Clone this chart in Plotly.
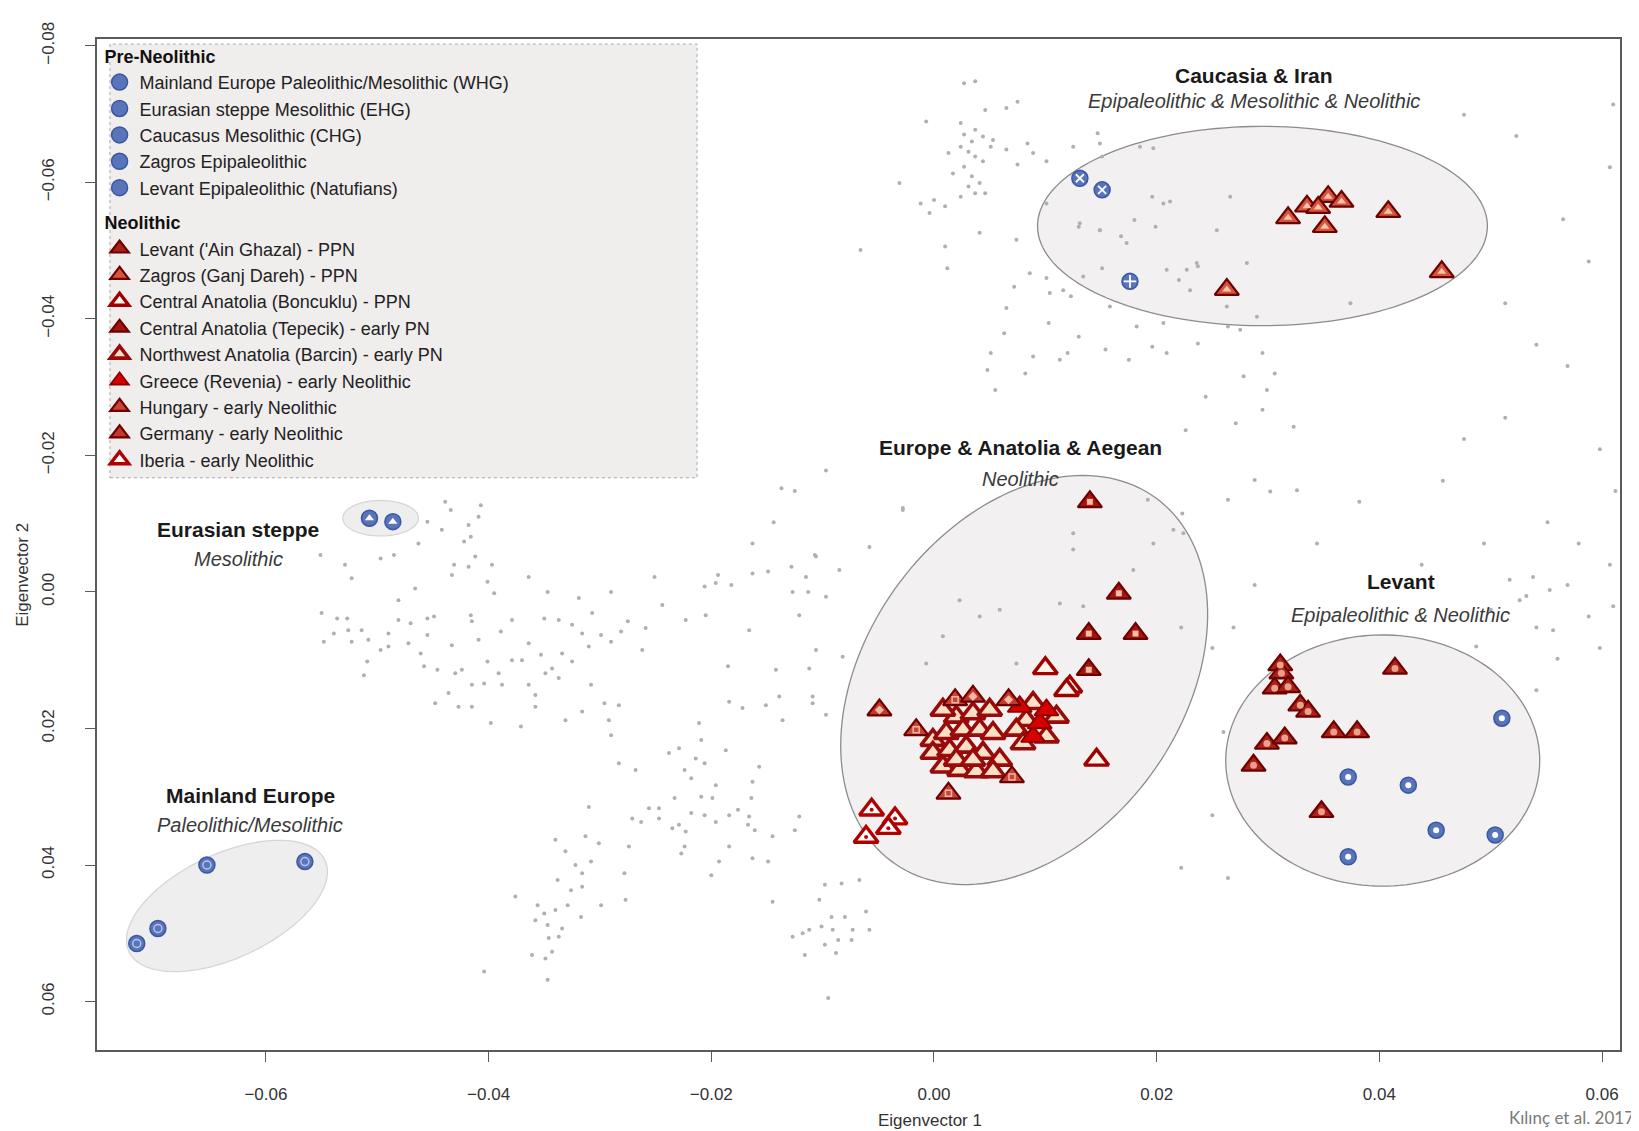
import numpy as np
import plotly.graph_objects as go

FONT = "Arial, 'Liberation Sans', sans-serif"

# ---------------- background (modern) samples, grey dots ----------------
bg_west = [(-0.0439,-0.0132),(-0.0434,-0.0120),(-0.0442,-0.0091),(-0.0418,-0.0098),(-0.0407,-0.0127),(-0.0409,-0.0110),(-0.0416,-0.0081),(-0.0422,-0.0074),(-0.0455,-0.0103),(-0.0463,-0.0071),(-0.0485,-0.0054),(-0.0497,-0.0049),(-0.0551,-0.0054),(-0.0523,-0.0020),(-0.0431,-0.0040),(-0.0418,-0.0037),(-0.0433,-0.0025),(-0.0397,-0.0040),(-0.0412,-0.0052),(-0.0364,-0.0022),(-0.0401,-0.0015),(-0.0466,-0.0005),(-0.0481,0.0012),(-0.0395,0.0002),(-0.0347,0.0000),(-0.0319,0.0009),(-0.0290,0.0000),(-0.0251,-0.0022),(-0.0244,0.0019),(-0.0206,-0.0008),(-0.0196,-0.0013),(-0.0194,-0.0025),(-0.0163,-0.0027),(-0.0149,-0.0030),(-0.0128,-0.0037),(-0.0115,-0.0022),(-0.0107,-0.0054),(-0.0137,-0.0152),(-0.0127,0.0000),(-0.0113,0.0000),(-0.0121,0.0034),(-0.0166,0.0056),(-0.0223,0.0041),(-0.0205,0.0034),(-0.0275,0.0043),(-0.0307,0.0031),(-0.0259,0.0053),(-0.0281,0.0058),(-0.0290,0.0073),(-0.0299,0.0063),(-0.0316,0.0061),(-0.0310,0.0080),(-0.0325,0.0048),(-0.0337,0.0041),(-0.0350,0.0039),(-0.0379,0.0041),(-0.0389,0.0058),(-0.0364,0.0075),(-0.0353,0.0092),(-0.0343,0.0112),(-0.0334,0.0090),(-0.0325,0.0102),(-0.0337,0.0126),(-0.0349,0.0119),(-0.0370,0.0100),(-0.0379,0.0100),(-0.0391,0.0119),(-0.0388,0.0136),(-0.0401,0.0102),(-0.0404,0.0134),(-0.0415,0.0136),(-0.0424,0.0114),(-0.0430,0.0119),(-0.0446,0.0114),(-0.0436,0.0148),(-0.0448,0.0163),(-0.0427,0.0168),(-0.0415,0.0168),(-0.0398,0.0192),(-0.0371,0.0197),(-0.0358,0.0151),(-0.0364,0.0136),(-0.0358,0.0168),(-0.0331,0.0188),(-0.0316,0.0175),(-0.0308,0.0136),(-0.0296,0.0163),(-0.0283,0.0166),(-0.0292,0.0188),(-0.0290,0.0210),(-0.0262,0.0085),(-0.0185,0.0109),(-0.0184,0.0161),(-0.0172,0.0170),(-0.0151,0.0166),(-0.0139,0.0153),(-0.0142,0.0114),(-0.0136,0.0188),(-0.0109,0.0153),(-0.0211,0.0192),(-0.0106,0.0085),(-0.0550,0.0031),(-0.0536,0.0039),(-0.0527,0.0039),(-0.0539,0.0061),(-0.0526,0.0056),(-0.0514,0.0056),(-0.0548,0.0073),(-0.0523,0.0073),(-0.0508,0.0070),(-0.0490,0.0061),(-0.0472,0.0075),(-0.0481,0.0041),(-0.0470,0.0046),(-0.0455,0.0039),(-0.0449,0.0036),(-0.0455,0.0063),(-0.0433,0.0078),(-0.0415,0.0043),(-0.0416,0.0034),(-0.0409,0.0070),(-0.0497,0.0085),(-0.0490,0.0080),(-0.0509,0.0102),(-0.0512,0.0122),(-0.0461,0.0090),(-0.0458,0.0109),(-0.0112,0.0112),(-0.0529,-0.0040)]

bg_south = [(-0.0097,0.0180),(-0.0209,0.0217),(-0.0229,0.0229),(-0.0238,0.0236),(-0.0214,0.0244),(-0.0206,0.0251),(-0.0187,0.0232),(-0.0283,0.0251),(-0.0268,0.0261),(-0.0224,0.0261),(-0.0218,0.0273),(-0.0196,0.0283),(-0.0199,0.0302),(-0.0209,0.0300),(-0.0233,0.0302),(-0.0163,0.0278),(-0.0164,0.0302),(-0.0157,0.0256),(-0.0310,0.0315),(-0.0256,0.0317),(-0.0247,0.0317),(-0.0271,0.0332),(-0.0263,0.0337),(-0.0247,0.0332),(-0.0235,0.0346),(-0.0229,0.0341),(-0.0223,0.0351),(-0.0218,0.0324),(-0.0206,0.0327),(-0.0196,0.0337),(-0.0184,0.0327),(-0.0176,0.0319),(-0.0166,0.0329),(-0.0167,0.0341),(-0.0161,0.0349),(-0.0145,0.0358),(-0.0125,0.0349),(-0.0121,0.0329),(-0.0340,0.0363),(-0.0313,0.0358),(-0.0301,0.0368),(-0.0331,0.0380),(-0.0322,0.0400),(-0.0316,0.0412),(-0.0308,0.0395),(-0.0274,0.0373),(-0.0224,0.0373),(-0.0227,0.0383),(-0.0193,0.0395),(-0.0184,0.0373),(-0.0163,0.0390),(-0.0149,0.0395),(-0.0200,0.0415),(-0.0278,0.0412),(-0.0338,0.0422),(-0.0326,0.0437),(-0.0316,0.0432),(-0.0376,0.0446),(-0.0356,0.0459),(-0.0350,0.0471),(-0.0340,0.0466),(-0.0329,0.0459),(-0.0317,0.0476),(-0.0299,0.0459),(-0.0277,0.0451),(-0.0358,0.0481),(-0.0347,0.0488),(-0.0334,0.0493),(-0.0337,0.0505),(-0.0346,0.0507),(-0.0343,0.0527),(-0.0361,0.0532),(-0.0349,0.0537),(-0.0404,0.0556),(-0.0347,0.0568),(-0.0145,0.0454),(-0.0098,0.0429),(-0.0083,0.0427),(-0.0067,0.0422),(-0.0103,0.0451),(-0.0092,0.0476),(-0.0080,0.0476),(-0.0061,0.0468),(-0.0127,0.0505),(-0.0118,0.0500),(-0.0112,0.0495),(-0.0101,0.0490),(-0.0091,0.0495),(-0.0086,0.0510),(-0.0074,0.0510),(-0.0058,0.0495),(-0.0073,0.0495),(-0.0098,0.0517),(-0.0088,0.0529),(-0.0116,0.0532),(-0.0095,0.0595)]

bg_north = [(0.0027,-0.0745),(0.0037,-0.0748),(0.0075,-0.0718),(0.0065,-0.0709),(0.0046,-0.0706),(-0.0007,-0.0689),(0.0024,-0.0687),(0.0037,-0.0677),(0.0027,-0.0670),(0.0044,-0.0667),(0.0053,-0.0662),(0.0034,-0.0660),(0.0024,-0.0652),(0.0013,-0.0643),(0.0031,-0.0645),(0.0037,-0.0638),(0.0051,-0.0652),(0.0065,-0.0648),(0.0084,-0.0657),(0.0044,-0.0631),(0.0027,-0.0623),(0.0017,-0.0613),(0.0034,-0.0609),(0.0041,-0.0599),(0.0031,-0.0594),(0.0037,-0.0584),(0.0046,-0.0584),(0.0024,-0.0579),(0.0000,-0.0574),(-0.0012,-0.0569),(0.0010,-0.0565),(-0.0004,-0.0555),(-0.0031,-0.0599),(0.0075,-0.0626),(0.0089,-0.0643),(0.0101,-0.0631),(0.0125,-0.0652),(0.0147,-0.0672),(0.0151,-0.0638),(-0.0066,-0.0501),(0.0010,-0.0506),(0.0012,-0.0474),(0.0041,-0.0526),(0.0074,-0.0516),(0.0086,-0.0467),(0.0072,-0.0447),(0.0101,-0.0460),(0.0130,-0.0535),(0.0149,-0.0530),(0.0168,-0.0521),(0.0180,-0.0545),(0.0196,-0.0579),(0.0206,-0.0569),(0.0199,-0.0535),(0.0209,-0.0472),(0.0220,-0.0457),(0.0230,-0.0442),(0.0237,-0.0477),(0.0151,-0.0474),(0.0123,-0.0433),(0.0134,-0.0462),(0.0104,-0.0438),(0.0065,-0.0416),(0.0063,-0.0379),(0.0103,-0.0394),(0.0130,-0.0374),(0.0113,-0.0340),(0.0089,-0.0345),(0.0051,-0.0350),(0.0048,-0.0325),(0.0055,-0.0296),(0.0082,-0.0320),(0.0120,-0.0350),(0.0154,-0.0355),(0.0175,-0.0340),(0.0182,-0.0389),(0.0196,-0.0359),(0.0206,-0.0394),(0.0209,-0.0350),(0.0237,-0.0364),(0.0264,-0.0389),(0.0275,-0.0384),(0.0295,-0.0350),(0.0306,-0.0320),(0.0299,-0.0296),(0.0278,-0.0316),(0.0244,-0.0286),(0.0271,-0.0247),(0.0295,-0.0267),(0.0323,-0.0242),(0.0226,-0.0237),(-0.0028,-0.0123),(0.0288,-0.0164),(0.0302,-0.0147),(0.0326,-0.0149),(0.0192,-0.0135),(0.0223,-0.0115),(0.0264,-0.0135),(0.0149,-0.0657),(0.0185,-0.0652),(0.0197,-0.0650),(0.0212,-0.0572),(0.0266,-0.0579),(0.0254,-0.0530),(0.0227,-0.0472),(0.0236,-0.0482),(0.0281,-0.0482),(0.0263,-0.0418),(0.0290,-0.0403),(0.0374,-0.0423),(0.0131,-0.0540),(0.0149,-0.0530),(0.0173,-0.0511),(0.0158,-0.0418),(0.0116,-0.0442),(0.0101,-0.0569)]

bg_east = [(0.0513,-0.0423),(0.0541,-0.0362),(0.0569,-0.0331),(0.0598,-0.0209),(0.0612,-0.0148),(0.0551,-0.0102),(0.0579,-0.0071),(0.0607,-0.0040),(0.0569,-0.0010),(0.0532,0.0006),(0.0588,0.0036),(0.0541,0.0052),(0.0560,0.0098),(0.0598,0.0082),(0.0610,0.0021),(0.0513,-0.0255),(0.0476,-0.0224),(0.0457,-0.0163),(0.0494,-0.0071),(0.0438,-0.0040),(0.0382,-0.0132),(0.0344,-0.0071),(0.0288,-0.0010),(0.0269,0.0052),(0.0222,0.0052),(0.0250,0.0082),(0.0260,0.0205),(0.0250,0.0327),(0.0264,0.0419),(0.0222,0.0404),(-0.0097,-0.0178),(-0.0125,-0.0148),(-0.0144,-0.0102),(-0.0163,-0.0071),(-0.0182,-0.0010),(0.0588,-0.0484),(0.0565,-0.0546),(0.0523,-0.0668),(0.0610,-0.0714),(0.0607,-0.0622),(0.0476,-0.0699),(0.0250,-0.0714),(0.0125,-0.0086),(0.0125,-0.0062),(0.0113,0.0017),(0.0134,0.0021),(0.0179,-0.0032),(0.0215,-0.0091),(0.0224,-0.0086),(0.0059,0.0026),(0.0023,0.0012),(0.0008,0.0065),(0.0041,0.0036),(0.0074,0.0105),(-0.0007,0.0105),(0.0197,-0.0071),(-0.0106,-0.0052),(-0.0085,-0.0032),(-0.0097,0.0007),(-0.0082,0.0095),(-0.0058,-0.0066),(-0.0028,-0.0120),(-0.0109,0.0163),(0.0487,0.0080),(0.0541,0.0144),(0.0526,0.0012),(0.0553,-0.0003),(0.0556,0.0056),(0.0517,-0.0018),(0.0538,-0.0022),(0.0500,0.0026)]

# ---------------- ancient samples ----------------
whg_x = [-0.0716, -0.0697, -0.0653, -0.0565]
whg_y = [0.0515, 0.0493, 0.0400, 0.0395]
ehg_x = [-0.0507, -0.0486]
ehg_y = [-0.0108, -0.0103]
chg_x = [0.0131, 0.0151]
chg_y = [-0.0606, -0.0589]
zepi_x = [0.0176]
zepi_y = [-0.0455]
natuf_x = [0.0510, 0.0372, 0.0426, 0.0451, 0.0504, 0.0372]
natuf_y = [0.0185, 0.0271, 0.0283, 0.0349, 0.0356, 0.0388]

levppn_x = [0.0311, 0.0312, 0.0306, 0.0318, 0.0329, 0.0336, 0.0299, 0.0315, 0.0287, 0.0359, 0.0380, 0.0414, 0.0348]
levppn_y = [0.0107, 0.0119, 0.0141, 0.0139, 0.0166, 0.0175, 0.0222, 0.0214, 0.0254, 0.0205, 0.0205, 0.0112, 0.0322]
zagppn_x = [0.0263, 0.0318, 0.0335, 0.0354, 0.0366, 0.0345, 0.0351, 0.0408, 0.0456]
zagppn_y = [-0.0443, -0.0548, -0.0565, -0.0579, -0.0572, -0.0563, -0.0535, -0.0557, -0.0469]
bonc_x = [0.0100, 0.0146, 0.0122, 0.0119]
bonc_y = [0.0112, 0.0246, 0.0139, 0.0144]
tepe_x = [0.0140, 0.0166, 0.0139, 0.0181, 0.0139]
tepe_y = [-0.0132, 0.0002, 0.0061, 0.0061, 0.0114]
barc_x = [0.0020, 0.0035, 0.0050, 0.0110, 0.0083, 0.0074, 0.0101, 0.0080, -0.0001, 0.0011, 0.0026, 0.0041, 0.0053, -0.0001, 0.0014, 0.0029, 0.0044, 0.0059, 0.0008, 0.0023, 0.0038, 0.0053, 0.0020, 0.0035, 0.0089, 0.0008]
barc_y = [0.0183, 0.0178, 0.0173, 0.0183, 0.0188, 0.0202, 0.0212, 0.0222, 0.0217, 0.0207, 0.0202, 0.0202, 0.0207, 0.0236, 0.0232, 0.0227, 0.0236, 0.0246, 0.0256, 0.0261, 0.0263, 0.0263, 0.0246, 0.0246, 0.0163, 0.0173]
greece_x = [0.0089, 0.0077, 0.0095, 0.0101]
greece_y = [0.0212, 0.0168, 0.0192, 0.0173]
hung_x = [-0.0016, 0.0013, 0.0070, 0.0019]
hung_y = [0.0202, 0.0295, 0.0271, 0.0158]
germ_x = [-0.0049, 0.0035, 0.0067]
germ_y = [0.0173, 0.0153, 0.0158]
iber_x = [-0.0056, -0.0035, -0.0041, -0.0061]
iber_y = [0.0319, 0.0332, 0.0346, 0.0359]

# ---------------- cluster ellipses: centre, two conjugate half-axes ----------------
ell_names = ["Caucasia", "Levant", "Europe", "Mainland", "Steppe"]
ell_cx = [0.0295, 0.0403, 0.0081, -0.0635, -0.0497]
ell_cy = [-0.0536, 0.0247, 0.0129, 0.0460, -0.0108]
ell_ax = [(0.0202, 0.0), (0.0141, 0.0), (0.0118, -0.0267), (0.0088, -0.0067), (0.0034, 0.0)]
ell_bx = [(0.0, 0.0146), (0.0, 0.0184), (0.0115, 0.0136), (0.0020, 0.0069), (0.0, 0.0026)]

# ---------------- cluster labels ----------------
lab_title = ["Caucasia & Iran", "Europe & Anatolia & Aegean", "Levant", "Eurasian steppe", "Mainland Europe"]
lab_sub = ["Epipaleolithic & Mesolithic & Neolithic", "Neolithic", "Epipaleolithic & Neolithic", "Mesolithic", "Paleolithic/Mesolithic"]
lab_x = [0.0287, 0.0078, 0.0419, -0.0625, -0.0614]
lab_y = [-0.0756, -0.0212, -0.0015, -0.0091, 0.0298]
sub_y = [-0.0719, -0.0166, 0.0034, -0.0048, 0.0342]

x_ticks = [-0.06, -0.04, -0.02, 0.00, 0.02, 0.04, 0.06]
y_ticks = [-0.08, -0.06, -0.04, -0.02, 0.00, 0.02, 0.04, 0.06]

fig = go.Figure()

# ellipses (drawn below everything)
t = np.linspace(0, 2 * np.pi, 160)
for i, nm in enumerate(ell_names):
    ex = ell_cx[i] + np.cos(t) * ell_ax[i][0] + np.sin(t) * ell_bx[i][0]
    ey = ell_cy[i] + np.cos(t) * ell_ax[i][1] + np.sin(t) * ell_bx[i][1]
    path = "M " + " L ".join(f"{a:.6f},{b:.6f}" for a, b in zip(ex, ey)) + " Z"
    light = nm in ("Mainland", "Steppe")
    fig.add_shape(type="path", path=path, xref="x", yref="y", layer="below",
                  fillcolor="#f2f0f0" if not light else "#efeeef",
                  line=dict(color="#8c8c8c" if not light else "#d6d6d6", width=1.3))

# grey background points
for pts in (bg_west, bg_south, bg_north, bg_east):
    fig.add_trace(go.Scatter(x=[p[0] for p in pts], y=[p[1] for p in pts], mode="markers",
                             marker=dict(size=4, color="#b0b0b0"), showlegend=False, hoverinfo="skip"))


def add_group(name, xs, ys, symbol, size, fill, edge, edge_w, group, gtitle=None, inner=None):
    kw = {}
    if gtitle:
        kw["legendgrouptitle"] = dict(text=f"<b>{gtitle}</b>", font=dict(size=18, color="#111", family=FONT))
    fig.add_trace(go.Scatter(x=xs, y=ys, mode="markers", name=name, legendgroup=group,
                             marker=dict(symbol=symbol, size=size, color=fill,
                                         line=dict(color=edge, width=edge_w)),
                             hoverinfo="skip", **kw))
    if inner is not None:
        fig.add_trace(go.Scatter(x=xs, y=ys, mode="markers", legendgroup=group, showlegend=False,
                                 marker=inner, hoverinfo="skip"))


BLUE, BLUE_E = "#5874bb", "#3c57a0"
add_group("Mainland Europe Paleolithic/Mesolithic (WHG)", whg_x, whg_y, "circle", 16, BLUE, BLUE_E, 1.5,
          "pre", "Pre-Neolithic",
          inner=dict(symbol="circle-open", size=8, color="#b9c5e8", line=dict(color="#b9c5e8", width=1.5)))
add_group("Eurasian steppe Mesolithic (EHG)", ehg_x, ehg_y, "circle", 16, BLUE, BLUE_E, 1.5, "pre",
          inner=dict(symbol="triangle-up", size=8, color="#ffffff", line=dict(width=0)))
add_group("Caucasus Mesolithic (CHG)", chg_x, chg_y, "circle", 16, BLUE, BLUE_E, 1.5, "pre",
          inner=dict(symbol="x-thin", size=8, color="#ffffff", line=dict(color="#ffffff", width=1.8)))
add_group("Zagros Epipaleolithic", zepi_x, zepi_y, "circle", 16, BLUE, BLUE_E, 1.5, "pre",
          inner=dict(symbol="cross-thin", size=9, color="#ffffff", line=dict(color="#ffffff", width=1.8)))
add_group("Levant Epipaleolithic (Natufians)", natuf_x, natuf_y, "circle", 16, BLUE, BLUE_E, 1.5, "pre",
          inner=dict(symbol="circle", size=6, color="#ffffff", line=dict(width=0)))

RED_E = "#6d0000"
add_group("Levant ('Ain Ghazal) - PPN", levppn_x, levppn_y, "triangle-up", 21, "#a8221a", RED_E, 2.2,
          "neo", "Neolithic",
          inner=dict(symbol="circle", size=7, color="#eba08c", line=dict(width=0)))
add_group("Zagros (Ganj Dareh) - PPN", zagppn_x, zagppn_y, "triangle-up", 21, "#d4553d", RED_E, 2.2, "neo",
          inner=dict(symbol="triangle-up", size=8, color="#f6c2aa", line=dict(width=0)))
add_group("Central Anatolia (Boncuklu) - PPN", bonc_x, bonc_y, "triangle-up", 21, "#fff4ec", "#a00000", 3.4, "neo")
add_group("Central Anatolia (Tepecik) - early PN", tepe_x, tepe_y, "triangle-up", 21, "#a3160f", RED_E, 2.2, "neo",
          inner=dict(symbol="square", size=6, color="#f3bca6", line=dict(width=0)))
add_group("Northwest Anatolia (Barcin) - early PN", barc_x, barc_y, "triangle-up", 21, "#fbe0c6", "#990a0a", 3.6, "neo")
add_group("Greece (Revenia) - early Neolithic", greece_x, greece_y, "triangle-up", 21, "#d60000", "#8c0000", 1.8, "neo")
add_group("Hungary - early Neolithic", hung_x, hung_y, "triangle-up", 21, "#c84535", RED_E, 2.2, "neo",
          inner=dict(symbol="square-open", size=6, color="#f2b5a2", line=dict(color="#f2b5a2", width=1.5)))
add_group("Germany - early Neolithic", germ_x, germ_y, "triangle-up", 21, "#c23a2c", RED_E, 2.2, "neo",
          inner=dict(symbol="diamond", size=7, color="#f2b8a6", line=dict(width=0)))
add_group("Iberia - early Neolithic", iber_x, iber_y, "triangle-up", 21, "#ffffff", "#b00000", 3.4, "neo",
          inner=dict(symbol="circle", size=4, color="#c00000", line=dict(width=0)))

# cluster labels
ann = []
for i in range(len(lab_title)):
    ann.append(dict(x=lab_x[i], y=lab_y[i], xref="x", yref="y", text=f"<b>{lab_title[i]}</b>",
                    showarrow=False, font=dict(size=21, color="#1a1a1a", family=FONT)))
    ann.append(dict(x=lab_x[i], y=sub_y[i], xref="x", yref="y", text=f"<i>{lab_sub[i]}</i>",
                    showarrow=False, font=dict(size=20, color="#3a3a3a", family=FONT)))
# axis titles
ann.append(dict(x=0.547, y=-0.0702, xref="paper", yref="paper", xanchor="center", yanchor="middle",
                text="Eigenvector 1", showarrow=False, font=dict(size=17, color="#333", family=FONT)))
ann.append(dict(x=-0.0486, y=0.47, xref="paper", yref="paper", xanchor="center", yanchor="middle",
                text="Eigenvector 2", showarrow=False, textangle=-90,
                font=dict(size=17, color="#333", family=FONT)))
# source credit in the bottom-right corner
ann.append(dict(x=1.0105, y=-0.054, xref="paper", yref="paper", xanchor="right", yanchor="top",
                text="Kılınç et al. 2017", showarrow=False,
                font=dict(size=17, color="#7a7a7a", family="Lato, 'Open Sans', sans-serif")))

# legend background box
fig.add_shape(type="rect", xref="paper", yref="paper", x0=0.0085, x1=0.394, y0=0.566, y1=0.995,
              layer="above", fillcolor="#f0eded", line=dict(color="#a8a8a8", width=1, dash="dot"))

axis_common = dict(showgrid=False, zeroline=False, showline=True, mirror=True, linecolor="#5a5a5a",
                   linewidth=1.5, ticks="outside", ticklen=10, tickcolor="#5a5a5a", tickwidth=1.2,
                   tickformat=".2f", tickfont=dict(size=17, color="#333", family=FONT))

# the page body adds an 8 px offset, so the figure is 8 px smaller and margins shifted
fig.update_layout(
    width=1631, height=1123,
    margin=dict(l=89, r=19, t=31, b=81),
    paper_bgcolor="white", plot_bgcolor="white",
    font=dict(family=FONT, color="#222"),
    xaxis=dict(range=[-0.07517, 0.06161], tickvals=x_ticks, ticklabelstandoff=18, **axis_common),
    yaxis=dict(range=[0.0671, -0.0810], tickvals=y_ticks, tickangle=-90, ticklabelstandoff=24, **axis_common),
    legend=dict(x=0.0017, y=1.0015, xanchor="left", yanchor="top", bgcolor="rgba(0,0,0,0)",
                borderwidth=0, font=dict(size=18, color="#222", family=FONT),
                tracegroupgap=8, itemclick=False, itemdoubleclick=False),
    annotations=ann,
    showlegend=True,
)

fig.write_html("out.html")
